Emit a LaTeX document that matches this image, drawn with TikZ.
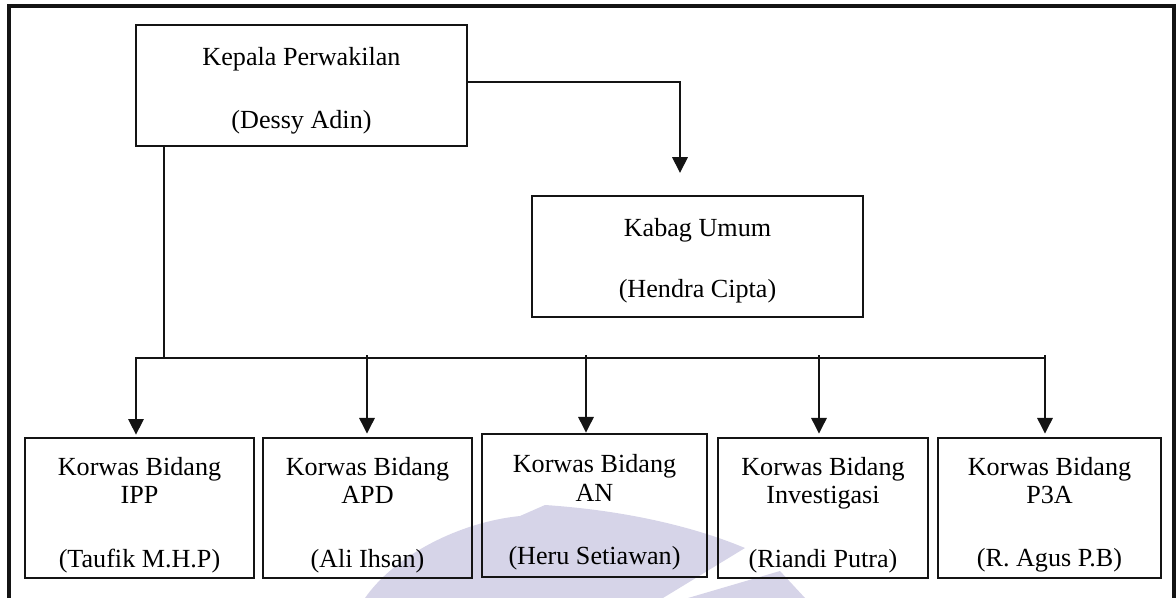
\documentclass[tikz,border=0pt]{standalone}
\usepackage{fontspec}
\setmainfont{Liberation Serif}
\usepackage{tikz}
\usetikzlibrary{arrows.meta,positioning,calc}
\definecolor{garisHitam}{RGB}{20,20,20}
\definecolor{unguPudar}{RGB}{214,212,232}

% penopang baris pertama, supaya teks turun sedikit
\newcommand{\topang}[1]{\rule{0pt}{#1}}

\tikzset{
  kotak/.style={draw=garisHitam, line width=1.1pt, align=center, inner sep=0pt,
                font=\fontsize{11.9}{12.9}\selectfont},
  garis/.style={draw=garisHitam, line width=0.6pt},
  panah/.style={garis, -{Triangle[length=0.25cm,width=0.25cm]}}
}

\begin{document}
\begin{tikzpicture}[x=0.016cm, y=-0.016cm]
\useasboundingbox (0,0) rectangle (1176,598);

% Logo samar di belakang
\fill[unguPudar] (365,598) .. controls (395,555) and (460,522) .. (520,516) -- (545,505)
  .. controls (620,510) and (690,525) .. (745,548) -- (663,598) -- cycle;
\fill[unguPudar] (688,598) -- (780,571) -- (805,598) -- cycle;

% Bingkai
\draw[garisHitam, line width=1.4pt] (9,598) -- (9,6) -- (1174,6) -- (1174,598);

% Kotak atas
\node[kotak, minimum width=5.30cm, minimum height=1.94cm] (kepala) at (301.5,85.5)
  {\topang{13pt}Kepala Perwakilan\\[16pt](Dessy Adin)};
\node[kotak, minimum width=5.30cm, minimum height=1.94cm] (kabag) at (697.5,256.5)
  {\topang{11.8pt}Kabag Umum\\[15pt](Hendra Cipta)};

% Kotak bawah
\node[kotak, minimum width=3.66cm, minimum height=2.24cm] (ipp) at (139.5,508)
  {\topang{14.5pt}Korwas Bidang\\IPP\\[16pt](Taufik M.H.P)};
\node[kotak, minimum width=3.34cm, minimum height=2.24cm] (apd) at (367.5,508)
  {\topang{14.5pt}Korwas Bidang\\APD\\[16pt](Ali Ihsan)};
\node[kotak, line width=1.3pt, minimum width=3.60cm, minimum height=2.29cm] (an) at (594.5,505.5)
  {\topang{14.5pt}Korwas Bidang\\AN\\[16pt](Heru Setiawan)};
\node[kotak, minimum width=3.36cm, minimum height=2.24cm] (investigasi) at (823,508)
  {\topang{14.5pt}Korwas Bidang\\Investigasi\\[16pt](Riandi Putra)};
\node[kotak, minimum width=3.57cm, minimum height=2.24cm] (ptiga) at (1049.5,508)
  {\topang{14.5pt}Korwas Bidang\\P3A\\[16pt](R. Agus P.B)};

% Garis ke Kabag Umum
\coordinate (siku) at (680,82);
\draw[panah, shorten >=0.35cm] (kepala.east |- siku) -- (siku) -- (siku |- kabag.north);

% Garis turun dan garis mendatar
\coordinate (simpang) at (164,358);
\coordinate (ujungKiri) at (136,358);
\coordinate (ujungKanan) at (1045,358);
\draw[garis] (kepala.south -| simpang) -- (simpang);
\draw[panah, shorten >=1pt] (ujungKanan) -- (ujungKiri) -- (ujungKiri |- ipp.north);

% Panah ke korwas
\coordinate (cabangApd) at (367,355);
\coordinate (cabangAn) at (586,355);
\coordinate (cabangInv) at (819,355);
\coordinate (cabangPtiga) at (1045,355);
\draw[panah, shorten >=1.5pt] (cabangApd) -- (cabangApd |- apd.north);
\draw[panah] (cabangAn) -- (cabangAn |- an.north);
\draw[panah, shorten >=1.5pt] (cabangInv) -- (cabangInv |- investigasi.north);
\draw[panah, shorten >=1.5pt] (cabangPtiga) -- (cabangPtiga |- ptiga.north);

\end{tikzpicture}
\end{document}
